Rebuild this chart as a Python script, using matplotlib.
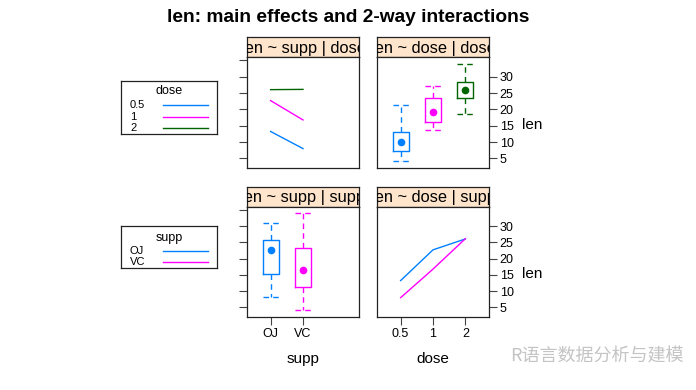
import numpy as np
import matplotlib.pyplot as plt

plt.rcParams['font.family'] = ['Liberation Sans', 'DejaVu Sans']

# ToothGrowth: levels, cell means and box summaries
dose_levels = ['0.5', '1', '2']
supp_levels = ['OJ', 'VC']
mean_oj = [13.23, 22.70, 26.06]   # by dose
mean_vc = [7.98, 16.77, 26.14]

dose_lo = [4.2, 13.6, 18.5]
dose_q1 = [7.15, 16.0, 23.45]
dose_med = [9.85, 19.25, 25.95]
dose_q3 = [13.0, 23.45, 28.35]
dose_hi = [21.5, 27.3, 33.9]

supp_lo = [8.2, 4.2]
supp_q1 = [15.2, 11.2]
supp_med = [22.7, 16.5]
supp_q3 = [25.8, 23.3]
supp_hi = [30.9, 33.9]

yticks = [5, 10, 15, 20, 25, 30, 35]
dose_cols = ['#0080ff', '#ff00ff', '#006400']
supp_cols = ['#0080ff', '#ff00ff']

W, H = 696, 390
fig = plt.figure(figsize=(W / 100, H / 100), dpi=100)

def px_axes(x0, y0, x1, y1):
    return fig.add_axes([x0 / W, 1 - y1 / H, (x1 - x0) / W, (y1 - y0) / H])

def panel(x0, x1, y0, y1, title, right=False, bottom=False, xlabels=None):
    st = px_axes(x0, y0 - 20, x1, y0)
    st.set_facecolor('#ffe5cc')
    st.set_xticks([]); st.set_yticks([])
    for s in st.spines.values():
        s.set_color('#222222'); s.set_linewidth(0.9)
    st.text(0.5, 0.45, title, transform=st.transAxes, ha='center', va='center',
            fontsize=11.8, clip_on=True)
    ax = px_axes(x0, y0, x1, y1)
    for s in ax.spines.values():
        s.set_color('#222222'); s.set_linewidth(0.9)
    ax.set_xlim(0.28, 3.72)
    ax.set_ylim(2.12, 35.98)
    ax.tick_params(length=6, width=0.8, color='#444444', labelsize=9, pad=2)
    if right:
        ax.set_yticks(yticks[:-1])
        ax.yaxis.tick_right()
        ax.set_ylabel('len', rotation=0, fontsize=11, ha='left', va='center')
        ax.yaxis.set_label_position('right')
        ax.yaxis.set_label_coords(1.3, 0.45)
    else:
        ax.set_yticks(yticks)
        ax.set_yticklabels([])
    if bottom:
        ax.set_xticks(range(1, len(xlabels) + 1))
        ax.set_xticklabels(xlabels)
    else:
        ax.set_xticks([])
    return ax

def boxes(ax, lo, q1, med, q3, hi, cols):
    for i in range(len(med)):
        st = [dict(whislo=lo[i], q1=q1[i], med=med[i], q3=q3[i], whishi=hi[i], fliers=[])]
        c = cols[i]
        ax.bxp(st, positions=[i + 1], widths=0.5, capwidths=0.5, showfliers=False,
               boxprops=dict(color=c, lw=1),
               whiskerprops=dict(color=c, lw=1, linestyle=(0, (4, 3))),
               capprops=dict(color=c, lw=1, linestyle=(0, (4, 3))),
               medianprops=dict(visible=False), manage_ticks=False)
        ax.plot(i + 1, med[i], 'o', color=c, ms=4.5)

xl, xr = 247.3, 358.7
xl2, xr2 = 377.3, 488.7

# top-left: len ~ supp | dose
ax1 = panel(xl, xr, 57.3, 167.7, 'len ~ supp | dose')
for j, c in enumerate(dose_cols):
    ax1.plot([1, 2], [mean_oj[j], mean_vc[j]], color=c, lw=1)

# top-right: len ~ dose | dose
ax2 = panel(xl2, xr2, 57.3, 167.7, 'len ~ dose | dose', right=True)
boxes(ax2, dose_lo, dose_q1, dose_med, dose_q3, dose_hi, dose_cols)

# bottom-left: len ~ supp | supp
ax3 = panel(xl, xr, 206.7, 316.7, 'len ~ supp | supp', bottom=True, xlabels=supp_levels)
boxes(ax3, supp_lo, supp_q1, supp_med, supp_q3, supp_hi, supp_cols)
ax3.set_xlabel('supp', fontsize=11, labelpad=9)

# bottom-right: len ~ dose | supp
ax4 = panel(xl2, xr2, 206.7, 316.7, 'len ~ dose | supp', right=True, bottom=True,
            xlabels=dose_levels)
x = np.arange(1, 4)
ax4.plot(x, mean_oj, color=supp_cols[0], lw=1)
ax4.plot(x, mean_vc, color=supp_cols[1], lw=1)
ax4.set_xlabel('dose', fontsize=11, labelpad=9)

# keys
def key(y0, y1, title, labels, cols, ytitle, ys):
    k = px_axes(121.3, y0, 216.7, y1)
    k.set_xlim(121.3, 216.7); k.set_ylim(y1, y0)
    k.set_xticks([]); k.set_yticks([])
    for s in k.spines.values():
        s.set_color('#222222'); s.set_linewidth(0.9)
    k.text(169, ytitle, title, ha='center', va='center', fontsize=9)
    for lab, c, yy in zip(labels, cols, ys):
        k.text(130, yy, lab, ha='left', va='center', fontsize=8)
        k.plot([163.3, 208.3], [yy, yy], color=c, lw=1)

key(80.7, 134.3, 'dose', dose_levels, dose_cols, 91, [105.3, 116.7, 128.0])
key(226, 268.3, 'supp', supp_levels, supp_cols, 237.5, [251, 262.3])

fig.text(0.5, 1 - 17 / H, 'len: main effects and 2-way interactions',
         ha='center', va='center', fontsize=13.8, weight='bold')
fig.text(510 / W, 1 - 357 / H, 'R语言数据分析与建模', ha='left', va='center',
         fontsize=13, color='#c4c4c4', family=['Noto Sans CJK SC', 'DejaVu Sans'])

fig.savefig('out.png', dpi=100)
